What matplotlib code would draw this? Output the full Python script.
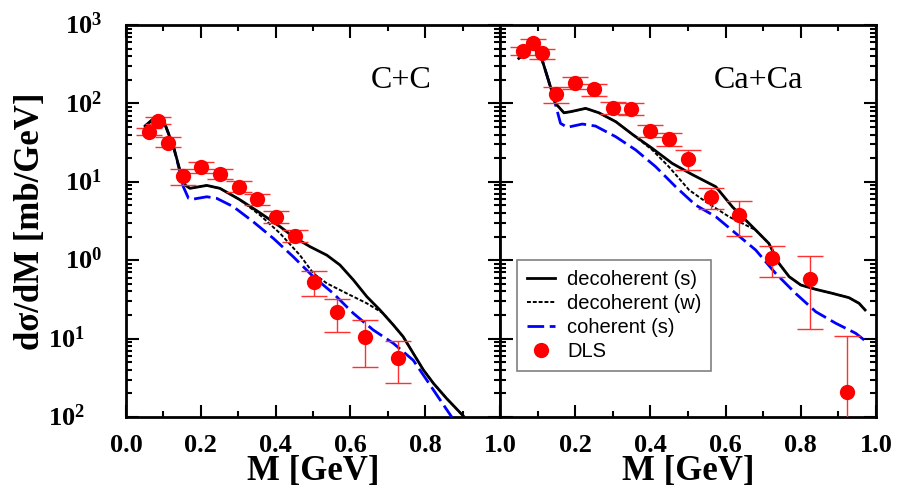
import matplotlib
matplotlib.use("Agg")
import matplotlib.pyplot as plt
from matplotlib.ticker import FixedLocator, LogLocator, MultipleLocator, NullFormatter
from matplotlib.transforms import offset_copy

plt.rcParams["font.family"] = "Liberation Serif"
plt.rcParams["mathtext.fontset"] = "custom"
plt.rcParams["mathtext.rm"] = "Liberation Serif"
plt.rcParams["mathtext.bf"] = "Liberation Serif:bold"

# ---- C+C ----
cc_s_m = [0.051, 0.082, 0.100, 0.127, 0.144, 0.158, 0.171, 0.216, 0.251, 0.303, 0.358, 0.412,
          0.447, 0.492, 0.537, 0.572, 0.608, 0.644, 0.679, 0.715, 0.741, 0.768, 0.795, 0.822,
          0.857, 0.902]
cc_s_y = [51.5, 69, 61, 28, 14.1, 9.1, 8.26, 9.0, 8.26, 5.97, 4.03, 2.68,
          2.0, 1.49, 1.16, 0.87, 0.56, 0.343, 0.232, 0.149, 0.106, 0.065, 0.040, 0.0269,
          0.0173, 0.0103]
cc_w_m = [0.051, 0.082, 0.100, 0.127, 0.144, 0.158, 0.171, 0.216, 0.251, 0.303, 0.358, 0.412,
          0.465, 0.501, 0.537, 0.590, 0.644, 0.688, 0.715, 0.741, 0.768, 0.795, 0.822, 0.857, 0.902]
cc_w_y = [51.5, 69, 61, 28, 14.1, 9.1, 8.26, 9.0, 8.26, 5.97, 3.77, 2.2,
          1.16, 0.68, 0.507, 0.378, 0.282, 0.21, 0.149, 0.106, 0.065, 0.040, 0.0269, 0.0173, 0.0103]
cc_c_m = [0.051, 0.082, 0.100, 0.127, 0.144, 0.153, 0.167, 0.178, 0.216, 0.242, 0.287, 0.340,
          0.394, 0.447, 0.501, 0.554, 0.608, 0.661, 0.715, 0.768, 0.804, 0.840, 0.871]
cc_c_y = [51.5, 69, 61, 28, 13.5, 8.7, 6.17, 6.0, 6.45, 6.17, 4.82, 3.1,
          1.9, 1.11, 0.616, 0.378, 0.21, 0.129, 0.087, 0.053, 0.0297, 0.0165, 0.0100]
cc_dls_m = [0.062, 0.086, 0.111, 0.152, 0.201, 0.251, 0.301, 0.351, 0.401, 0.452, 0.502, 0.564,
            0.639, 0.727]
cc_dls_y = [43.5, 60, 31.5, 12, 15.3, 12.6, 8.7, 6.0, 3.6, 2.04, 0.52, 0.216, 0.105, 0.0566]
cc_dls_lo = [39.5, 54.6, 28, 9.0, 13.0, 10.8, 7.4, 5.1, 3.0, 1.73, 0.352, 0.12, 0.043, 0.027]
cc_dls_hi = [48, 66.5, 36.9, 14.7, 17.8, 14.6, 10.1, 7.0, 4.2, 2.4, 0.73, 0.32, 0.173, 0.094]

# ---- Ca+Ca ----
ca_s_m = [0.050, 0.086, 0.108, 0.126, 0.148, 0.170, 0.188, 0.228, 0.263, 0.308, 0.352, 0.405,
          0.458, 0.511, 0.574, 0.618, 0.671, 0.715, 0.742, 0.769, 0.800, 0.840, 0.884, 0.928,
          0.955, 0.971]
ca_s_y = [376, 529, 414, 219, 100, 76, 78.5, 86.5, 76, 58.5, 40.4, 26.7,
          17.2, 12.4, 8.66, 4.8, 2.68, 1.64, 0.91, 0.617, 0.483, 0.425, 0.378, 0.333,
          0.282, 0.232]
ca_w_m = [0.050, 0.086, 0.108, 0.126, 0.148, 0.170, 0.188, 0.228, 0.263, 0.308, 0.352, 0.405,
          0.449, 0.503, 0.547, 0.609, 0.680, 0.715, 0.742, 0.769, 0.800, 0.840, 0.884, 0.928,
          0.955, 0.971]
ca_w_y = [376, 529, 414, 219, 100, 76, 78.5, 86.5, 76, 58.5, 40.4, 25.5,
          15.6, 7.86, 5.58, 3.59, 2.43, 1.64, 0.91, 0.617, 0.483, 0.425, 0.378, 0.333,
          0.282, 0.232]
ca_c_m = [0.050, 0.086, 0.108, 0.126, 0.148, 0.161, 0.179, 0.219, 0.254, 0.308, 0.361, 0.414,
          0.467, 0.520, 0.574, 0.627, 0.680, 0.733, 0.786, 0.840, 0.893, 0.946, 0.971]
ca_c_y = [376, 529, 414, 219, 95, 55.7, 49.6, 54.6, 51.5, 37.6, 25.5, 15.6,
          8.67, 5.06, 3.59, 2.2, 1.35, 0.68, 0.378, 0.22, 0.157, 0.117, 0.094]
ca_dls_m = [0.062, 0.087, 0.112, 0.150, 0.200, 0.250, 0.300, 0.349, 0.400, 0.449, 0.500, 0.562,
            0.636, 0.724, 0.824, 0.924]
ca_dls_y = [471, 595, 435, 132, 184, 151, 88, 85.6, 44.9, 34.8, 19.5, 6.45, 3.77, 1.08, 0.57, 0.0208]
ca_dls_lo = [420, 530, 370, 100, 155, 125, 74, 71, 37, 28.5, 14.3, 4.5, 2.04, 0.605, 0.132, 0.005]
ca_dls_hi = [520, 660, 500, 160, 215, 178, 104, 101, 53, 41.5, 25.5, 8.4, 5.74, 1.53, 1.13, 0.108]

legend_labels = ["decoherent (s)", "decoherent (w)", "coherent (s)", "DLS"]
x_ticks = [0.0, 0.2, 0.4, 0.6, 0.8, 1.0]
y_ticks = [1e-2, 1e-1, 1e0, 1e1, 1e2, 1e3]
# the reference prints the negative exponents without their minus signs
y_tick_labels = [r"$\mathbf{10^{2}}$", r"$\mathbf{10^{1}}$", r"$\mathbf{10^{0}}$",
                 r"$\mathbf{10^{1}}$", r"$\mathbf{10^{2}}$", r"$\mathbf{10^{3}}$"]
y_label_x = [-0.11, -0.11, -0.064, -0.064, -0.064, -0.064]

fig = plt.figure(figsize=(8.97, 4.92), dpi=100)
ax1 = fig.add_axes([0.1405, 0.1524, 0.4169, 0.7967])
ax2 = fig.add_axes([0.5574, 0.1524, 0.4192, 0.7967])


def draw_panel(ax, s_m, s_y, w_m, w_y, c_m, c_y, d_m, d_y, d_lo, d_hi, title, tx):
    ax.plot(s_m, s_y, color="black", lw=2.0, label=legend_labels[0], zorder=4)
    ax.plot(w_m, w_y, color="black", lw=1.4, ls=(0, (2, 1)), label=legend_labels[1], zorder=4)
    ax.plot(c_m, c_y, color="#0000ff", lw=2.0, ls=(0, (6, 2)), label=legend_labels[2], zorder=3)
    yerr = [[y - lo for y, lo in zip(d_y, d_lo)], [hi - y for y, hi in zip(d_y, d_hi)]]
    ax.errorbar(d_m, d_y, yerr=yerr, fmt="none", ecolor="#ff3030", elinewidth=1.0,
                capsize=9.5, capthick=1.0, zorder=5)
    ax.plot(d_m, d_y, "o", color="#ff0000", ms=11, mec="none", label=legend_labels[3], zorder=6)
    ax.set_yscale("log")
    ax.set_xlim(0, 1)
    ax.set_ylim(1e-2, 1e3)
    ax.xaxis.set_major_locator(FixedLocator(x_ticks))
    ax.xaxis.set_minor_locator(MultipleLocator(0.1))
    ax.yaxis.set_major_locator(FixedLocator(y_ticks))
    ax.yaxis.set_minor_locator(LogLocator(base=10, subs=range(2, 10)))
    ax.yaxis.set_minor_formatter(NullFormatter())
    ax.set_yticklabels([])
    ax.tick_params(which="both", direction="in", top=True, right=True, width=1.5)
    ax.tick_params(which="major", length=9)
    ax.tick_params(which="minor", length=4.5)
    ax.tick_params(axis="x", which="major", labelsize=19, pad=12)
    for sp in ax.spines.values():
        sp.set_linewidth(2.0)
    ax.text(0.5, -0.140, "M [GeV]", transform=ax.transAxes, fontsize=25, fontweight="bold",
            ha="center", va="center")
    ax.text(tx, 0.858, title, transform=ax.transAxes, fontsize=23, ha="center", va="center")


draw_panel(ax1, cc_s_m, cc_s_y, cc_w_m, cc_w_y, cc_c_m, cc_c_y,
           cc_dls_m, cc_dls_y, cc_dls_lo, cc_dls_hi, "C+C", 0.737)
draw_panel(ax2, ca_s_m, ca_s_y, ca_w_m, ca_w_y, ca_c_m, ca_c_y,
           ca_dls_m, ca_dls_y, ca_dls_lo, ca_dls_hi, "Ca+Ca", 0.688)

ax1.set_xticklabels(["0.0", "0.2", "0.4", "0.6", "0.8", "1.0"], fontweight="bold")
ax2.set_xticklabels(["", "0.2", "0.4", "0.6", "0.8", "1.0"], fontweight="bold")

# y tick labels drawn by hand so the two lower ones can sit further left, as in the source
ytrans = offset_copy(ax1.get_yaxis_transform(), fig=fig, y=-9, units="dots")
for val, lab, lx in zip(y_ticks, y_tick_labels, y_label_x):
    ax1.text(lx, val, lab, transform=ytrans, fontsize=19, ha="right", va="baseline",
             clip_on=False)

fig.text(30 / 897, 1 - 221 / 492, "d\u03c3/dM [mb/GeV]", fontsize=25, fontweight="bold",
         rotation=90, ha="center", va="center")

leg = ax2.legend(loc="lower left", bbox_to_anchor=(0.044, 0.118), borderaxespad=0,
                 prop={"family": "Liberation Sans", "size": 14.5}, fancybox=False,
                 edgecolor="#808080", framealpha=1, handlelength=1.4, handletextpad=0.6,
                 labelspacing=0.25, borderpad=0.5)
leg.get_frame().set_linewidth(1.2)

fig.savefig("out.png", dpi=100)
